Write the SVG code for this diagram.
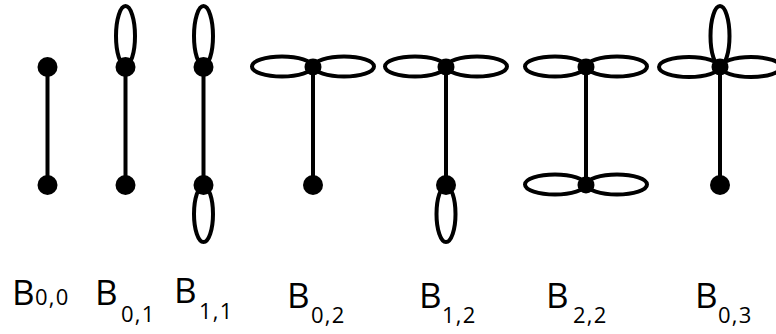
<svg xmlns="http://www.w3.org/2000/svg" width="776" height="334" viewBox="0 0 776 334">
  <style>
    .edge { stroke: #000; stroke-width: 4; }
    .loop { fill: none; stroke: #000; stroke-width: 4; }
    .dot { fill: #000; }
    .big { font-family: "Open Sans", "Liberation Sans", sans-serif; font-size: 35px; fill: #000; }
    .sub { font-family: "Open Sans", "Liberation Sans", sans-serif; font-size: 22px; letter-spacing: 1.2px; fill: #000; }
  </style>
  <rect width="776" height="334" fill="#fff"/>

  <!-- edges between the two vertices of each graph -->
  <g id="connectors">
    <line class="edge" x1="47.5" y1="67" x2="47.5" y2="185"/>
    <line class="edge" x1="125.5" y1="67" x2="125.5" y2="185"/>
    <line class="edge" x1="203.5" y1="67" x2="203.5" y2="185"/>
    <line class="edge" x1="313" y1="67" x2="313" y2="185"/>
    <line class="edge" x1="446" y1="67" x2="446" y2="185"/>
    <line class="edge" x1="586" y1="67" x2="586" y2="185"/>
    <line class="edge" x1="720" y1="67" x2="720" y2="185"/>
  </g>

  <!-- B0,0 -->
  <g id="b00">
    <circle class="dot" cx="47.5" cy="67" r="10"/>
    <circle class="dot" cx="47.5" cy="185" r="10"/>
    <text class="big" x="12" y="305">B</text>
    <text class="sub" x="35" y="305">0,0</text>
  </g>

  <!-- B0,1 -->
  <g id="b01">
    <ellipse class="loop" cx="125.5" cy="36" rx="9.5" ry="30"/>
    <circle class="dot" cx="125.5" cy="67" r="10"/>
    <circle class="dot" cx="125.5" cy="185" r="10"/>
    <text class="big" x="95" y="305">B</text>
    <text class="sub" x="121" y="322">0,1</text>
  </g>

  <!-- B1,1 -->
  <g id="b11">
    <ellipse class="loop" cx="203.5" cy="36" rx="9.5" ry="30"/>
    <ellipse class="loop" cx="203.5" cy="214" rx="9.5" ry="28"/>
    <circle class="dot" cx="203.5" cy="67" r="10"/>
    <circle class="dot" cx="203.5" cy="185" r="10"/>
    <text class="big" x="174" y="303">B</text>
    <text class="sub" x="199" y="319">1,1</text>
  </g>

  <!-- B0,2 -->
  <g id="b02">
    <ellipse class="loop" cx="282" cy="66.5" rx="30" ry="10"/>
    <ellipse class="loop" cx="344" cy="66.5" rx="30" ry="10"/>
    <circle class="dot" cx="313" cy="67" r="8.5"/>
    <circle class="dot" cx="313" cy="185" r="10"/>
    <text class="big" x="287" y="308">B</text>
    <text class="sub" x="311" y="323">0,2</text>
  </g>

  <!-- B1,2 -->
  <g id="b12">
    <ellipse class="loop" cx="415" cy="66.5" rx="30" ry="10"/>
    <ellipse class="loop" cx="477" cy="66.5" rx="30" ry="10"/>
    <ellipse class="loop" cx="446" cy="214" rx="9.5" ry="28"/>
    <circle class="dot" cx="446" cy="67" r="8.5"/>
    <circle class="dot" cx="446" cy="185" r="10"/>
    <text class="big" x="419" y="308">B</text>
    <text class="sub" x="442" y="323">1,2</text>
  </g>

  <!-- B2,2 -->
  <g id="b22">
    <ellipse class="loop" cx="555" cy="66.5" rx="30" ry="10"/>
    <ellipse class="loop" cx="617" cy="66.5" rx="30" ry="10"/>
    <ellipse class="loop" cx="555" cy="184.5" rx="30" ry="10"/>
    <ellipse class="loop" cx="617" cy="184.5" rx="30" ry="10"/>
    <circle class="dot" cx="586" cy="67" r="8.5"/>
    <circle class="dot" cx="586" cy="185" r="8.5"/>
    <text class="big" x="546" y="308">B</text>
    <text class="sub" x="573" y="323">2,2</text>
  </g>

  <!-- B0,3 -->
  <g id="b03">
    <ellipse class="loop" cx="689" cy="67" rx="30" ry="10"/>
    <ellipse class="loop" cx="751" cy="67" rx="30" ry="10"/>
    <ellipse class="loop" cx="720" cy="36" rx="9.5" ry="30"/>
    <circle class="dot" cx="720" cy="67" r="8.5"/>
    <circle class="dot" cx="720" cy="185" r="10"/>
    <text class="big" x="695" y="308">B</text>
    <text class="sub" x="718" y="323">0,3</text>
  </g>
</svg>
